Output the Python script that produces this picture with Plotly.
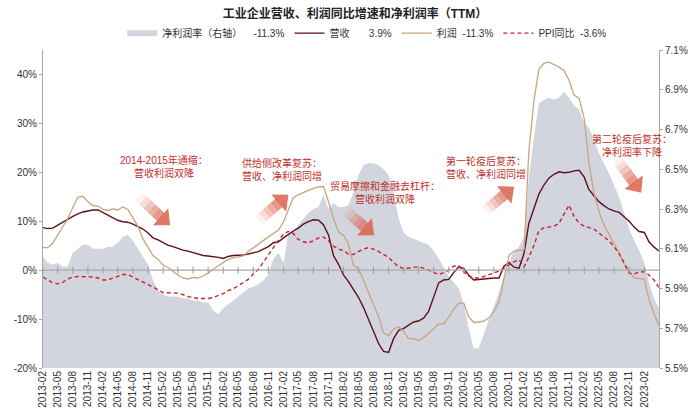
import math
import pandas as pd
import plotly.graph_objects as go

# ---------------- data ----------------
dates = pd.date_range("2013-02-01", periods=124, freq="MS")

revenue = [8.7, 8.5, 8.6, 9.2, 9.9, 10.5, 11.0, 11.5, 11.9, 12.1, 12.3, 12.3,
           11.8, 11.3, 10.8, 10.2, 9.9, 9.8, 9.4, 8.9, 8.4, 7.6, 6.6, 6.2,
           5.6, 5.1, 4.8, 4.4, 4.1, 3.9, 3.6, 3.3, 3.0, 2.9, 2.8, 2.6,
           2.4, 2.8, 3.0, 3.0, 3.1, 3.3, 3.6, 3.8, 4.3, 4.8, 5.6, 5.8,
           6.6, 7.3, 8.0, 8.6, 9.4, 9.9, 10.3, 10.2, 9.3, 7.2, 3.0, 1.2,
           -1.0, -2.3, -3.8, -5.5, -7.6, -10.0, -12.6, -15.0, -16.6, -16.8, -14.0, -12.3,
           -11.9, -11.2, -10.6, -10.4, -9.8, -8.5, -5.5, -2.6, -2.0, -1.9, -0.5, 0.7,
           0.3, -1.0, -2.0, -1.9, -1.7, -1.6, -1.6, -1.6, 0.8, 1.6, 0.6, 0.4,
           3.5, 9.5, 12.8, 15.5, 17.4, 18.8, 19.6, 20.1, 19.9, 20.0, 20.3, 20.4,
           19.0, 16.5, 15.2, 14.0, 13.2, 12.5, 12.1, 11.8, 10.9, 10.0, 8.8, 7.9,
           7.7, 5.8, 4.7, 3.9]

profit = [4.6, 4.6, 5.5, 7.1, 8.9, 10.5, 12.8, 14.9, 15.1, 14.0, 13.2, 13.1,
          12.4, 12.2, 12.5, 12.3, 12.9, 12.4, 10.7, 8.9, 6.4, 4.8, 3.0, 2.2,
          1.0, 0.6, -0.2, -1.0, -1.6, -1.8, -1.5, -1.6, -1.2, -0.6, 0.2, 0.9,
          1.7, 2.2, 2.5, 2.7, 2.9, 3.8, 4.6, 5.3, 6.0, 6.8, 7.5, 8.2,
          9.9, 12.3, 14.8, 15.4, 15.9, 16.3, 16.7, 17.0, 17.1, 14.0, 10.5, 7.8,
          7.1, 5.5, 1.0, 0.4, -2.0, -4.4, -7.0, -9.5, -12.8, -13.4, -12.0, -11.6,
          -12.5, -14.0, -14.0, -14.4, -13.8, -13.0, -12.0, -11.0, -11.0, -9.6, -8.0, -6.8,
          -6.8, -9.5, -10.7, -10.6, -10.4, -9.8, -8.5, -6.5, -1.5, 3.0, 3.9, 4.1,
          4.2, 24.0, 34.5, 41.0, 42.3, 42.5, 42.0, 41.5, 40.8, 38.8, 35.8, 35.1,
          31.0, 22.0, 15.8, 12.0, 9.2, 7.3, 5.4, 3.5, 1.2, -0.4, -1.6, -1.8,
          -1.9, -6.0, -9.0, -11.3]

ppi = [-1.4, -2.0, -2.6, -2.8, -2.5, -1.8, -1.4, -1.3, -1.3, -1.3, -1.4, -1.6,
       -2.0, -2.0, -1.6, -1.3, -0.9, -0.9, -1.4, -2.0, -2.4, -3.0, -3.4, -4.0,
       -4.6, -4.6, -4.6, -4.7, -5.0, -5.4, -5.6, -5.8, -5.8, -5.8, -5.6, -5.2,
       -4.8, -4.2, -3.8, -3.2, -2.6, -1.9, -0.8, 0.2, 1.6, 3.0, 4.6, 6.1,
       7.4, 7.9, 7.5, 6.3, 5.8, 5.6, 6.0, 6.6, 6.8, 6.0, 4.9, 4.3,
       4.0, 3.3, 3.2, 3.8, 4.3, 4.6, 4.3, 3.8, 3.2, 2.6, 1.6, 0.7,
       0.3, 0.4, 0.6, 0.7, 0.4, 0.0, -0.5, -0.9, -0.5, 0.0, 0.8, 0.9,
       -0.4, -1.2, -1.6, -1.6, -1.3, -0.9, -0.6, -0.2, 0.4, 1.1, 1.7, 2.1,
       0.7, 2.6, 5.0, 8.0, 8.7, 8.8, 9.0, 9.6, 11.5, 13.3, 11.0, 9.6,
       9.0, 8.7, 8.4, 7.6, 6.8, 6.0, 4.8, 3.4, 1.5, -0.6, -0.8, -0.4,
       -0.3, -1.0, -2.0, -3.6]

net_margin = [6.06, 6.03, 6.02, 6.03, 6.01, 6.01, 6.08, 6.10, 6.12, 6.12, 6.10, 6.10,
              6.10, 6.11, 6.11, 6.13, 6.16, 6.17, 6.14, 6.10, 6.06, 6.02, 5.94, 5.89,
              5.87, 5.86, 5.86, 5.86, 5.85, 5.85, 5.84, 5.84, 5.83, 5.83, 5.79, 5.77,
              5.80, 5.82, 5.84, 5.86, 5.88, 5.90, 5.91, 5.92, 5.94, 5.97, 6.05, 6.08,
              6.03, 6.17, 6.19, 6.22, 6.25, 6.28, 6.30, 6.31, 6.37, 6.30, 6.33, 6.31,
              6.31, 6.32, 6.38, 6.47, 6.52, 6.53, 6.53, 6.52, 6.50, 6.47, 6.38, 6.25,
              6.18, 6.16, 6.15, 6.14, 6.13, 6.12, 6.09, 6.05, 6.01, 5.96, 5.93, 5.90,
              5.82, 5.70, 5.60, 5.60, 5.67, 5.74, 5.81, 5.88, 5.96, 6.03, 6.09, 6.11,
              6.16, 6.45, 6.66, 6.83, 6.85, 6.86, 6.85, 6.86, 6.89, 6.86, 6.82, 6.80,
              6.73, 6.71, 6.65, 6.58, 6.53, 6.48, 6.42, 6.36, 6.28, 6.20, 6.14, 6.09,
              6.03, 5.93, 5.85, 5.80]

left_ticks = [-20, -10, 0, 10, 20, 30, 40]
left_tick_text = ["-20%", "-10%", "0%", "10%", "20%", "30%", "40%"]
right_ticks = [5.5, 5.7, 5.9, 6.1, 6.3, 6.5, 6.7, 6.9, 7.1]
right_tick_text = ["5.5%", "5.7%", "5.9%", "6.1%", "6.3%", "6.5%", "6.7%", "6.9%", "7.1%"]

legend_names = ["净利润率（右轴）\u00a0\u00a0\u00a0\u00a0-11.3%",
                "营收\u00a0\u00a0\u00a0\u00a0\u00a0\u00a0\u00a03.9%",
                "利润\u00a0\u00a0-11.3%",
                "PPI同比\u00a0\u00a0-3.6%"]

title_text = "工业企业营收、利润同比增速和净利润率（TTM）"

notes = [
    ("2014-2015年通缩：<br>营收利润双降", 166, 168, "center"),
    ("供给侧改革复苏：<br>营收、净利润同增", 243, 171, "left"),
    ("贸易摩擦和金融去杠杆：<br>营收利润双降", 390, 194, "center"),
    ("第一轮疫后复苏：<br>营收、净利润同增", 450, 169, "left"),
    ("第二轮疫后复苏：<br>净利润率下降", 641, 146, "center"),
]
# arrows: tail (px), tip (px)
arrows = [((140, 198), (172, 227)),
          ((262, 222), (292, 196)),
          ((350, 212), (379, 237)),
          ((492, 212), (521, 188)),
          ((625, 160), (650, 194))]

# ---------------- layout constants ----------------
W, H = 700, 420
L, R, T, B = 43, 32, 50, 49
PW, PH = W - L - R, H - T - B

def px2paper(x, y):
    return (x - L) / PW, (H - B - y) / PH

FONT = "Liberation Sans, Arial, Noto Sans CJK SC, sans-serif"
RED = "#C0302C"

fig = go.Figure()

fig.add_trace(go.Scatter(x=dates, y=net_margin, name=legend_names[0], mode="none",
                         fill="tozeroy", fillcolor="#D2D5DE", yaxis="y"))
fig.add_trace(go.Scatter(x=dates, y=revenue, name=legend_names[1], mode="lines",
                         line=dict(color="#5E0F1C", width=1.4), yaxis="y2"))
fig.add_trace(go.Scatter(x=dates, y=profit, name=legend_names[2], mode="lines",
                         line=dict(color="#C9A47E", width=1.3), yaxis="y2"))
fig.add_trace(go.Scatter(x=dates, y=ppi, name=legend_names[3], mode="lines",
                         line=dict(color="#C8202B", width=1.4, dash="4px,3px"), yaxis="y2"))

tick_dates = dates[:121:3]
fig.add_trace(go.Scatter(x=tick_dates, y=[0] * len(tick_dates), mode="markers",
                         marker=dict(symbol="line-ns", size=5,
                                     line=dict(color="#9A9A9A", width=1)),
                         yaxis="y2", showlegend=False, hoverinfo="skip"))

shapes = [dict(type="line", xref="paper", yref="y2", x0=0, x1=1, y0=0, y1=0,
               line=dict(color="#A8A8A8", width=1.2), layer="above")]

def arrow_paths(tail, tip):
    tx, ty = tail
    px, py = tip
    dx, dy = px - tx, py - ty
    ln = math.hypot(dx, dy)
    ux, uy = dx / ln, dy / ln
    nx, ny = -uy, ux
    sw, hw, hl = 5.5, 11.5, 13.0
    hx, hy = px - ux * hl, py - uy * hl
    out = []
    nseg = 5
    shaft_len = ln - hl
    for i in range(nseg):
        a = shaft_len * i / nseg
        b = shaft_len * (i + 1) / nseg + 0.6
        pts = [(tx + ux * a + nx * sw, ty + uy * a + ny * sw),
               (tx + ux * b + nx * sw, ty + uy * b + ny * sw),
               (tx + ux * b - nx * sw, ty + uy * b - ny * sw),
               (tx + ux * a - nx * sw, ty + uy * a - ny * sw)]
        out.append((pts, 0.08 + 0.14 * i))
    head = [(hx + nx * hw, hy + ny * hw), (px, py), (hx - nx * hw, hy - ny * hw)]
    out.append((head, 0.85))
    return out

for tail, tip in arrows:
    for pts, op in arrow_paths(tail, tip):
        path = "M " + " L ".join("%.5f,%.5f" % px2paper(x, y) for x, y in pts) + " Z"
        shapes.append(dict(type="path", xref="paper", yref="paper", path=path,
                           fillcolor="#D9604A", opacity=op, line=dict(width=0),
                           layer="above"))

annotations = []
for txt, x, y, al in notes:
    xp, yp = px2paper(x, y)
    annotations.append(dict(text=txt, x=xp, y=yp, xref="paper", yref="paper",
                            xanchor=al, yanchor="middle", align=al, showarrow=False,
                            font=dict(family=FONT, size=10, color=RED)))

fig.update_layout(
    width=W, height=H,
    margin=dict(l=L, r=R, t=T, b=B),
    paper_bgcolor="white", plot_bgcolor="white",
    font=dict(family=FONT, size=10, color="#333333"),
    title=dict(text="<b>" + title_text + "</b>", x=355 / W, xanchor="center",
               y=1 - 14 / H, yanchor="middle",
               font=dict(family=FONT, size=12, color="#222222")),
    showlegend=True,
    legend=dict(orientation="h", x=px2paper(372, 33)[0], xanchor="center",
                y=px2paper(372, 33)[1], yanchor="middle",
                font=dict(family=FONT, size=10, color="#333333"),
                bgcolor="rgba(0,0,0,0)", itemwidth=30, traceorder="normal"),
    xaxis=dict(type="date", range=[dates[0], dates[-1]], tickvals=tick_dates,
               tickformat="%Y-%m", tickangle=-90, showgrid=False, zeroline=False,
               showline=False, ticks="", tickfont=dict(size=10, color="#333333")),
    yaxis=dict(side="right", range=[5.5, 7.1], tickvals=right_ticks, ticktext=right_tick_text,
               showgrid=False, zeroline=False,
               showline=True, linecolor="#A8A8A8", linewidth=1, ticks="outside",
               ticklen=3, tickcolor="#A8A8A8", tickfont=dict(size=10, color="#333333")),
    yaxis2=dict(side="left", overlaying="y", range=[-20, 45], tickvals=left_ticks,
                ticktext=left_tick_text, showgrid=False, zeroline=False, showline=True,
                linecolor="#A8A8A8", linewidth=1, ticks="outside", ticklen=3,
                tickcolor="#A8A8A8", tickfont=dict(size=10, color="#333333")),
    shapes=shapes,
    annotations=annotations,
)

fig.write_html("out.html")
